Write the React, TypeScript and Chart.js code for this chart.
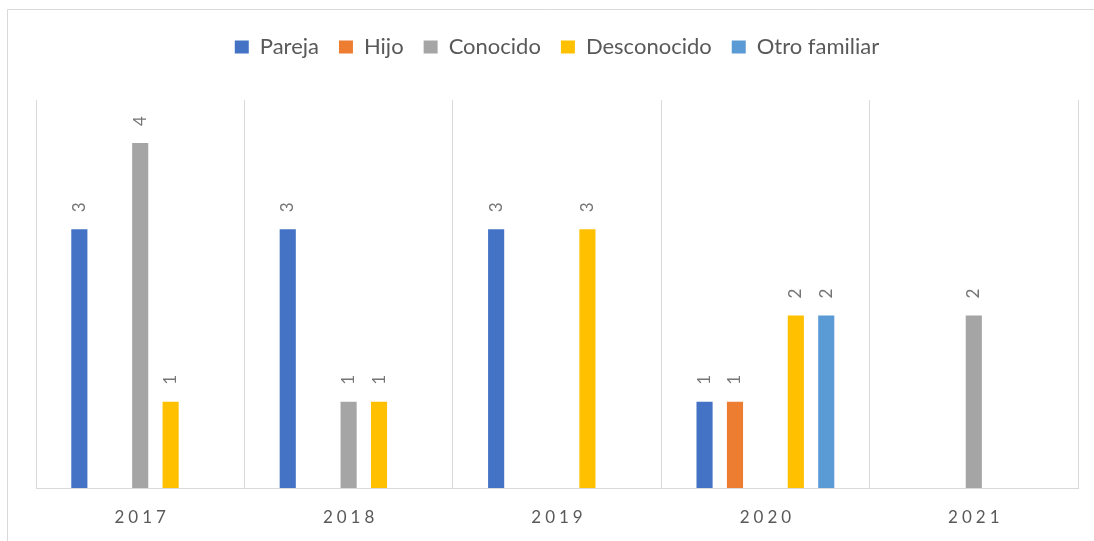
import React, { useEffect, useRef } from "react";
import { Chart, registerables } from "chart.js";

Chart.register(...registerables);

const categories = ["2017", "2018", "2019", "2020", "2021"];
const seriesNames = ["Pareja", "Hijo", "Conocido", "Desconocido", "Otro familiar"];
const pareja = [3, 3, 3, 1, null];
const hijo = [null, null, null, 1, null];
const conocido = [4, 1, null, null, 2];
const desconocido = [1, 1, 3, 2, null];
const otroFamiliar = [null, null, null, 2, null];
const seriesColors = ["#4472C4", "#ED7D31", "#A5A5A5", "#FFC000", "#5B9BD5"];
const yMax = 4.5;

const FONT = "Lato, 'Open Sans', sans-serif";

const frame = {
  id: "frame",
  beforeDraw(chart: any) {
    const ctx = chart.ctx;
    ctx.save();
    ctx.fillStyle = "#ffffff";
    ctx.fillRect(0, 0, chart.width, chart.height);
    ctx.strokeStyle = "#D9D9D9";
    ctx.lineWidth = 1;
    ctx.beginPath();
    ctx.moveTo(7.5, chart.height);
    ctx.lineTo(7.5, 9.5);
    ctx.lineTo(chart.width, 9.5);
    ctx.stroke();
    ctx.restore();
  },
};

const legendGap = {
  id: "legendGap",
  beforeLayout(chart: any) {
    const lg = chart.legend;
    if (lg && !lg.__patched) {
      const orig = lg.fit;
      lg.fit = function () {
        orig.call(this);
        this.height += 32;
      };
      lg.__patched = true;
    }
  },
};

const valueLabels = {
  id: "valueLabels",
  afterDatasetsDraw(chart: any) {
    const ctx = chart.ctx;
    ctx.save();
    ctx.font = "17px " + FONT;
    ctx.fillStyle = "#767676";
    ctx.textAlign = "left";
    ctx.textBaseline = "middle";
    chart.data.datasets.forEach((ds: any, di: number) => {
      const meta = chart.getDatasetMeta(di);
      meta.data.forEach((el: any, i: number) => {
        const v = ds.data[i];
        if (v === null || v === undefined) return;
        ctx.save();
        ctx.translate(el.x, el.y - 17);
        ctx.rotate(-Math.PI / 2);
        ctx.fillText(String(v), 0, 0);
        ctx.restore();
      });
    });
    ctx.restore();
  },
};

const xLabels = {
  id: "xLabels",
  afterDraw(chart: any) {
    const ctx = chart.ctx;
    const xs = chart.scales.x;
    ctx.save();
    ctx.font = "17px " + FONT;
    ctx.fillStyle = "#595959";
    ctx.textAlign = "center";
    ctx.textBaseline = "middle";
    const sp = 4;
    (ctx as any).letterSpacing = sp + "px";
    categories.forEach((c, i) => {
      const x = xs.getPixelForValue(i);
      ctx.fillText(c, x + sp / 2, 518);
    });
    ctx.restore();
  },
};

export default function App() {
  const ref = useRef<HTMLCanvasElement | null>(null);
  useEffect(() => {
    if (!ref.current) return;
    const data = [pareja, hijo, conocido, desconocido, otroFamiliar];
    const chart = new Chart(ref.current, {
      type: "bar",
      data: {
        labels: categories,
        datasets: seriesNames.map((n, i) => ({
          label: n,
          data: data[i],
          backgroundColor: seriesColors[i],
          borderWidth: 0,
          categoryPercentage: 0.73,
          barPercentage: 0.53,
        })),
      },
      options: {
        responsive: false,
        animation: false,
        layout: { padding: { left: 36, right: 16, top: 16, bottom: 53 } },
        plugins: {
          legend: {
            position: "top",
            align: "center",
            labels: {
              boxWidth: 14,
              boxHeight: 13,
              padding: 20,
              color: "#595959",
              font: { family: FONT, size: 22 },
            },
          },
          tooltip: { enabled: false },
        },
        scales: {
          x: {
            display: true,
            ticks: { display: false },
            grid: { display: true, color: "#D9D9D9", drawTicks: false, offset: true, lineWidth: 1 },
            border: { display: true, color: "#D9D9D9", width: 1 },
          },
          y: {
            display: false,
            min: 0,
            max: yMax,
          },
        },
      },
      plugins: [frame, legendGap, valueLabels, xLabels],
    });
    return () => chart.destroy();
  }, []);
  return (
    <div style={{ position: "absolute", left: 0, top: 0, width: 1094, height: 541 }}>
      <canvas ref={ref} width={1094} height={541} />
    </div>
  );
}
